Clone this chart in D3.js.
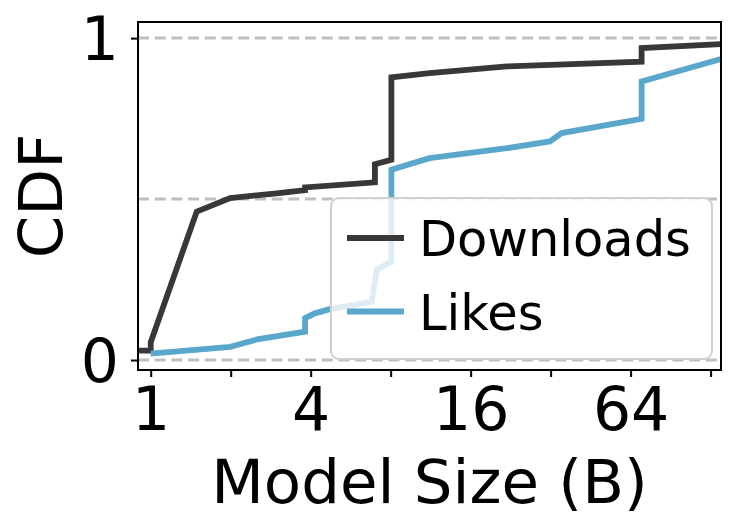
<!DOCTYPE html>
<html>
<head>
<meta charset="utf-8">
<script src="https://cdn.jsdelivr.net/npm/d3@7"></script>
<style>
  html, body { margin: 0; padding: 0; background: #fff; }
  svg { display: block; font-family: "DejaVu Sans", sans-serif; }
</style>
</head>
<body>
<svg id="chart" width="736" height="530"></svg>
<script>
// ---- data (model size in billions, CDF) ----
const downloadsSize = [0.5, 1.0, 1.0, 1.49, 1.99, 2.98, 3.81, 3.81, 6.98, 6.98, 8.05, 8.05, 11.2, 21.9, 70.4, 70.4, 140];
const downloadsCdf  = [0.029, 0.029, 0.055, 0.461, 0.503, 0.518, 0.528, 0.536, 0.552, 0.608, 0.622, 0.878, 0.891, 0.912, 0.927, 0.969, 0.981];
const likesSize = [1.0, 1.99, 2.51, 3.81, 3.81, 4.15, 4.72, 6.79, 7.09, 8.05, 8.05, 11.2, 21.9, 31.8, 35.2, 70.4, 70.4, 140];
const likesCdf  = [0.020, 0.041, 0.064, 0.088, 0.130, 0.145, 0.158, 0.181, 0.280, 0.306, 0.591, 0.627, 0.658, 0.679, 0.705, 0.749, 0.865, 0.935];
const seriesNames = ["Downloads", "Likes"];
const xTickValues = [1, 2, 4, 8, 16, 32, 64, 128];
const xTickLabels = ["1", "", "4", "", "16", "", "64", ""];
const yTickValues = [0, 1];
const yTickLabels = ["0", "1"];
const gridValues = [0, 0.5, 1];

const colors = { Downloads: "#383838", Likes: "#5aa7cc" };

const svg = d3.select("#chart");
const m = { left: 138, right: 721, top: 22, bottom: 370 };

const x = d3.scaleLog().base(2)
  .domain([Math.pow(2, -0.159), Math.pow(2, 7.13)])
  .range([m.left, m.right]);
const y = d3.scaleLinear().domain([-0.031, 1.05]).range([m.bottom, m.top]);

svg.append("defs").append("clipPath").attr("id", "clip")
  .append("rect").attr("x", m.left).attr("y", m.top)
  .attr("width", m.right - m.left).attr("height", m.bottom - m.top);

// gridlines
svg.append("g").selectAll("line").data(gridValues).join("line")
  .attr("x1", m.left).attr("x2", m.right)
  .attr("y1", d => y(d)).attr("y2", d => y(d))
  .attr("stroke", "#bfbfbf").attr("stroke-width", 3)
  .attr("stroke-dasharray", "11,5.7");

// lines
const series = [
  { name: "Downloads", xs: downloadsSize, ys: downloadsCdf },
  { name: "Likes", xs: likesSize, ys: likesCdf }
];
const line = d3.line().x(d => x(d[0])).y(d => y(d[1]));
svg.append("g").attr("clip-path", "url(#clip)")
  .selectAll("path").data(series).join("path")
  .attr("d", s => line(s.xs.map((v, i) => [v, s.ys[i]])))
  .attr("fill", "none")
  .attr("stroke", s => colors[s.name])
  .attr("stroke-width", 5.8)
  .attr("stroke-linejoin", "miter")
  .attr("stroke-linecap", "butt");

// axes
const xAxis = d3.axisBottom(x).tickValues(xTickValues)
  .tickFormat((d, i) => xTickLabels[i]).tickSize(7).tickPadding(10);
const gx = svg.append("g").attr("transform", `translate(0,${m.bottom})`).call(xAxis);
gx.select(".domain").remove();
gx.selectAll(".tick line").attr("stroke", "#000").attr("stroke-width", 2);
gx.selectAll(".tick text").attr("font-size", 60).attr("fill", "#000")
  .attr("font-family", "DejaVu Sans").attr("dy", "0.71em");

const yAxis = d3.axisLeft(y).tickValues(yTickValues)
  .tickFormat((d, i) => yTickLabels[i]).tickSize(7).tickPadding(12);
const gy = svg.append("g").attr("transform", `translate(${m.left},0)`).call(yAxis);
gy.select(".domain").remove();
gy.selectAll(".tick line").attr("stroke", "#000").attr("stroke-width", 2);
gy.selectAll(".tick text").attr("font-size", 60).attr("fill", "#000")
  .attr("font-family", "DejaVu Sans").attr("dy", "0.36em");

// frame
svg.append("rect").attr("x", m.left).attr("y", m.top)
  .attr("width", m.right - m.left).attr("height", m.bottom - m.top)
  .attr("fill", "none").attr("stroke", "#000").attr("stroke-width", 2);

// axis labels
svg.append("text").attr("x", (m.left + m.right) / 2).attr("y", 503)
  .attr("text-anchor", "middle").attr("font-size", 61).attr("fill", "#000")
  .text("Model Size (B)");
svg.append("text").attr("transform", `translate(62,${(m.top + m.bottom) / 2}) rotate(-90)`)
  .attr("text-anchor", "middle").attr("font-size", 61).attr("fill", "#000")
  .text("CDF");

// legend
const lg = svg.append("g");
lg.append("rect").attr("x", 331).attr("y", 198).attr("width", 381).attr("height", 161)
  .attr("rx", 8).attr("ry", 8)
  .attr("fill", "#fff").attr("fill-opacity", 0.8)
  .attr("stroke", "#d0d0d0").attr("stroke-width", 2);
const items = lg.selectAll("g.item").data(seriesNames).join("g")
  .attr("transform", (d, i) => `translate(0,${238 + i * 73.5})`);
items.append("line").attr("x1", 347).attr("x2", 404).attr("y1", 0).attr("y2", 0)
  .attr("stroke", d => colors[d]).attr("stroke-width", 5.8);
items.append("text").attr("x", 419).attr("y", 18).attr("font-size", 49.5).attr("fill", "#000")
  .text(d => d);
</script>
</body>
</html>
